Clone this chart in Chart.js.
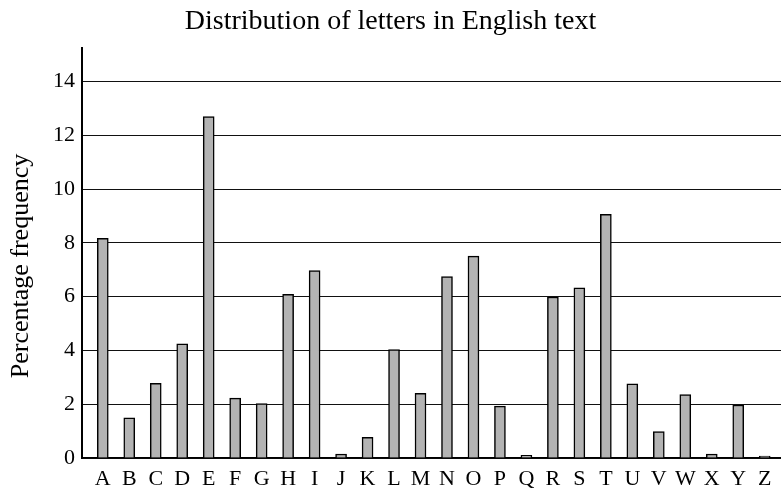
<!DOCTYPE html>
<html>
<head>
<meta charset="utf-8">
<script src="https://cdn.jsdelivr.net/npm/chart.js@4/dist/chart.umd.min.js"></script>
<style>
  html, body { margin: 0; padding: 0; background: #fff; }
  #wrap { width: 781px; height: 488px; }
</style>
</head>
<body>
<div id="wrap"><canvas id="chart"></canvas></div>
<script>
var letters = ['A','B','C','D','E','F','G','H','I','J','K','L','M','N','O','P','Q','R','S','T','U','V','W','X','Y','Z'];
var frequencies = [8.17, 1.49, 2.78, 4.25, 12.70, 2.23, 2.02, 6.09, 6.97, 0.15, 0.77, 4.03, 2.41,
                   6.75, 7.51, 1.93, 0.10, 5.99, 6.33, 9.06, 2.76, 0.98, 2.36, 0.15, 1.97, 0.07];
var yTicks = [0, 2, 4, 6, 8, 10, 12, 14];

var punti = [];
for (var i = 0; i < letters.length; i++) {
  punti.push({ x: i, y: frequencies[i] });
}

var serif = "'Liberation Serif', 'Times New Roman', serif";

var chart = new Chart(document.getElementById('chart'), {
  type: 'bar',
  data: {
    datasets: [{
      data: punti,
      backgroundColor: '#b3b3b3',
      borderColor: '#000',
      borderWidth: 1.5,
      barThickness: 11
    }]
  },
  options: {
    responsive: true,
    maintainAspectRatio: false,
    animation: false,
    layout: { padding: 0 },
    plugins: {
      legend: { display: false },
      tooltip: { enabled: false },
      title: {
        display: true,
        text: 'Distribution of letters in English text',
        color: '#000',
        font: { family: serif, size: 28, weight: 'normal' },
        padding: { top: 5, bottom: 9.4 }
      }
    },
    scales: {
      x: {
        type: 'linear',
        offset: false,
        min: -0.785,
        max: 25.615,
        afterBuildTicks: function(scale) {
          scale.ticks = letters.map(function(l, i) { return { value: i }; });
        },
        afterFit: function(scale) { scale.height = 30; },
        grid: { display: false, drawTicks: false },
        border: { display: true, color: '#000', width: 1.5 },
        ticks: {
          autoSkip: false,
          maxRotation: 0,
          padding: 8,
          color: '#000',
          font: { family: serif, size: 22 },
          callback: function(value) { return letters[value]; }
        }
      },
      y: {
        min: 0,
        max: 15.25,
        afterBuildTicks: function(scale) {
          scale.ticks = yTicks.map(function(v) { return { value: v }; });
        },
        afterFit: function(scale) { scale.width = 82; },
        grid: { color: '#111', lineWidth: 1, drawTicks: false },
        border: { display: true, color: '#000', width: 2 },
        ticks: {
          padding: 7,
          color: '#000',
          font: { family: serif, size: 22 }
        },
        title: {
          display: true,
          // spazi finali: spostano un po' in basso il titolo come nell'originale
          text: 'Percentage frequency    ',
          color: '#000',
          font: { family: serif, size: 26 },
          padding: { top: 6, bottom: 0 }
        }
      }
    }
  }
});
</script>
</body>
</html>
